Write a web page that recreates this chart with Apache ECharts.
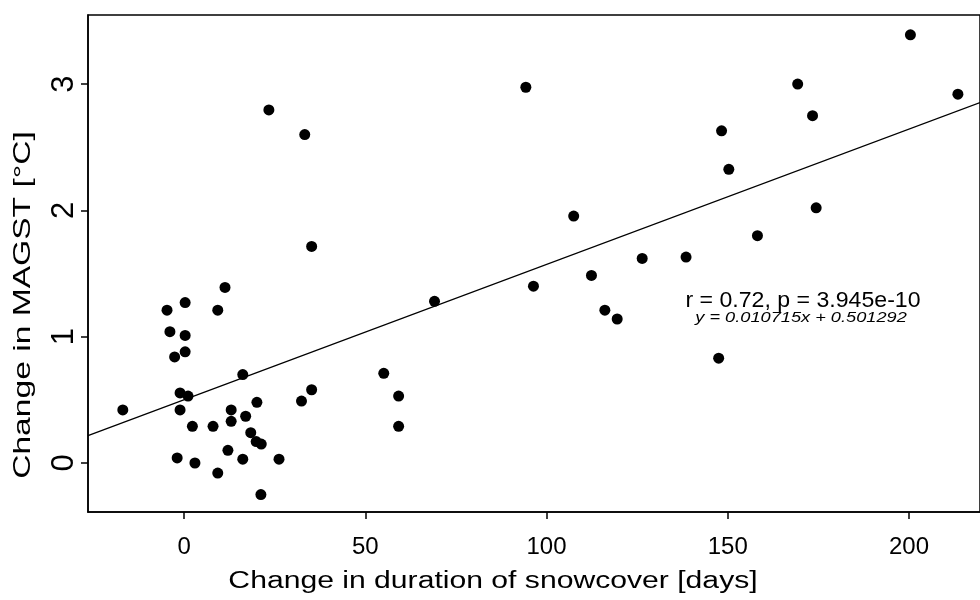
<!DOCTYPE html>
<html>
<head>
<meta charset="utf-8">
<title>MAGST vs snowcover</title>
<script src="https://cdn.jsdelivr.net/npm/echarts@6/dist/echarts.min.js"></script>
<style>
	html, body { margin: 0; padding: 0; background: #fff; }
	#main { width: 980px; height: 600px; }
</style>
</head>
<body>
<div id="main"></div>
<script>
// change in duration of snowcover [days]
var snowDays = [
	11.3, 0.3, -4.7, 9.3, -3.9, 0.3, 0.3, -2.6, 16.2, -1.1,
	1.1, -16.9, -1.1, 35.2, 32.4, 20.1, 13.0, 13.0, 17.0, 2.3,
	8.0, 18.4, 19.9, 21.3, 12.1, -1.9, 16.2, 26.2, 3.0, 9.3,
	21.2, 23.4, 33.3, 35.2, 94.3, 107.5, 126.4, 112.4, 96.4, 69.1,
	55.1, 59.2, 59.2, 116.1, 119.5, 200.4, 169.3, 213.5, 173.4, 148.3,
	150.3, 174.4, 158.2, 138.5, 147.5
];
// change in MAGST [°C]
var magstChange = [
	1.39, 1.27, 1.21, 1.21, 1.04, 1.01, 0.88, 0.84, 0.70, 0.555,
	0.53, 0.42, 0.42, 0.58, 0.49, 0.48, 0.42, 0.33, 0.37, 0.29,
	0.29, 0.24, 0.17, 0.15, 0.10, 0.04, 0.03, 0.03, 0.00, -0.08,
	-0.25, 2.795, 2.60, 1.715, 2.975, 1.955, 1.62, 1.485, 1.40, 1.28,
	0.71, 0.53, 0.29, 1.21, 1.14, 3.39, 3.00, 2.92, 2.75, 2.63,
	2.325, 2.02, 1.80, 1.63, 0.83
];
var xTicks = [0, 50, 100, 150, 200];
var yTicks = [0, 1, 2, 3];
// linear fit as printed on the plot
var fitSlope = 0.010715;
var fitIntercept = 0.501292;
var statText = 'r = 0.72, p = 3.945e-10';
var fitText = 'y = 0.010715x + 0.501292';

var X_MIN = -26.5, X_MAX = 219.6;
var Y_MIN = -0.388, Y_MAX = 3.547;
var FONT = '"Liberation Sans", Arial, sans-serif';

var points = snowDays.map(function(d, i) { return [d, magstChange[i]]; });
var fitLine = [X_MIN, X_MAX].map(function(d) { return [d, fitSlope * d + fitIntercept]; });

var chart = echarts.init(document.getElementById('main'), null, { renderer: 'canvas' });

chart.setOption({
	animation: false,
	backgroundColor: '#fff',
	grid: {
		left: 88, top: 15, right: -2, bottom: 88,
		show: true, borderColor: '#000', borderWidth: 1.5,
		backgroundColor: 'transparent'
	},
	xAxis: {
		type: 'value', min: X_MIN, max: X_MAX,
		splitLine: { show: false },
		axisLine: { show: true, onZero: false, lineStyle: { color: '#000', width: 1.5 } },
		axisTick: { show: true, length: 7, customValues: xTicks, lineStyle: { color: '#000', width: 1.5 } },
		axisLabel: { customValues: xTicks, color: '#000', fontFamily: FONT, fontSize: 24, margin: 23 }
	},
	yAxis: {
		type: 'value', min: Y_MIN, max: Y_MAX,
		splitLine: { show: false },
		axisLine: { show: true, onZero: false, lineStyle: { color: '#000', width: 1.5 } },
		axisTick: { show: true, length: 7, customValues: yTicks, lineStyle: { color: '#000', width: 1.5 } },
		axisLabel: { customValues: yTicks, rotate: 90, color: '#000', fontFamily: FONT, fontSize: 31, margin: 8 }
	},
	graphic: [
		{
			type: 'text', x: 493, y: 582, scaleX: 1.31,
			style: { text: 'Change in duration of snowcover [days]', fill: '#000', font: '23px ' + FONT, align: 'center', verticalAlign: 'middle' }
		},
		{
			type: 'text', x: 23, y: 305, rotation: Math.PI / 2, scaleX: 1.4,
			style: { text: 'Change in MAGST [°C]', fill: '#000', font: '24px ' + FONT, align: 'center', verticalAlign: 'middle' }
		},
		{
			type: 'text', x: 803, y: 301, scaleX: 1.05,
			style: { text: statText, fill: '#000', font: '22px ' + FONT, align: 'center', verticalAlign: 'middle' }
		},
		{
			type: 'text', x: 801, y: 318, scaleX: 1.3,
			style: { text: fitText, fill: '#000', font: 'italic 14px ' + FONT, align: 'center', verticalAlign: 'middle' }
		}
	],
	series: [
		{
			type: 'line', data: fitLine, symbol: 'none', clip: true,
			lineStyle: { color: '#000', width: 1.3 }, z: 2
		},
		{
			type: 'scatter', data: points, symbol: 'circle', symbolSize: 11,
			itemStyle: { color: '#000', opacity: 1 }, z: 3
		}
	]
});
</script>
</body>
</html>
